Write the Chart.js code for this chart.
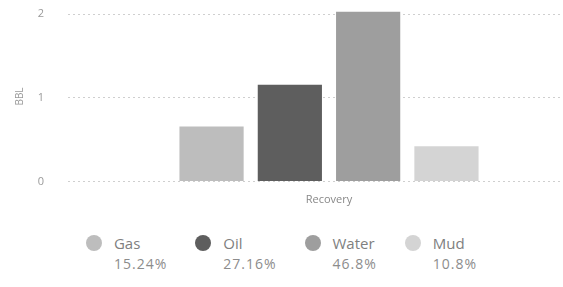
<!DOCTYPE html>
<html>
<head>
<meta charset="utf-8">
<script src="https://cdn.jsdelivr.net/npm/chart.js@4"></script>
<style>
  html, body { margin: 0; padding: 0; background: #fff; overflow: hidden; }
  body { width: 563px; height: 287px; position: relative; font-family: "Open Sans", sans-serif; }
  #wrap { position: absolute; left: 0; top: -19px; width: 590px; height: 231px; }
  #legend { position: absolute; left: 0; top: 232px; width: 563px; display: flex; justify-content: center; gap: 28px; }
  .item { display: flex; align-items: flex-start; }
  .dot { width: 16px; height: 16px; border-radius: 50%; margin-top: 3px; margin-right: 12px; }
  .name { font-size: 15px; color: #808080; line-height: 22px; }
  .pct { font-size: 14px; color: #8c8c8c; letter-spacing: 1px; line-height: 20px; }
</style>
</head>
<body>
<div id="wrap"><canvas id="recoveryChart"></canvas></div>
<div id="legend"></div>
<script>
var categories = ["Recovery"];
var fluids = ["Gas", "Oil", "Water", "Mud"];
var volumes = [0.655, 1.155, 2.03, 0.42];
var shares = ["15.24%", "27.16%", "46.8%", "10.8%"];
var yTicks = [0, 1, 2];

var fluidColors = ["#bdbdbd", "#5e5e5e", "#9e9e9e", "#d4d4d4"];

new Chart("recoveryChart", {
    type: "bar",
    data: {
        labels: categories,
        datasets: fluids.map(function (name, i) {
            return {
                label: name,
                data: [volumes[i]],
                backgroundColor: fluidColors[i],
                categoryPercentage: 0.6,
                barPercentage: 0.82,
            };
        }),
    },
    options: {
        responsive: true,
        maintainAspectRatio: false,
        animation: false,
        layout: { padding: { top: 0, right: 0 } },
        plugins: {
            legend: { display: false },
            tooltip: { enabled: false },
        },
        scales: {
            x: {
                grid: { display: false },
                border: { display: false },
                ticks: { color: "#888", font: { family: "Open Sans", size: 11 }, padding: 4 },
            },
            y: {
                min: 0,
                max: 2.03,
                afterFit: function (scale) { scale.width = 68; },
                afterBuildTicks: function (scale) {
                    scale.ticks = yTicks.map(function (v) { return { value: v }; });
                },
                title: { display: true, text: "BBL", color: "#999", font: { family: "Open Sans", size: 10 }, padding: { top: 14, bottom: 0 } },
                border: { display: false, dash: [2, 3] },
                grid: { color: "#cfcfcf", drawTicks: false },
                ticks: { color: "#999", font: { family: "Open Sans", size: 11 }, padding: 24 },
            },
        },
    },
});

var legend = document.getElementById("legend");
fluids.forEach(function (name, i) {
    var item = document.createElement("div");
    item.className = "item";
    item.innerHTML = '<div class="dot" style="background:' + fluidColors[i] + '"></div>' +
        '<div><div class="name">' + name + '</div><div class="pct">' + shares[i] + '</div></div>';
    legend.appendChild(item);
});
</script>
</body>
</html>
